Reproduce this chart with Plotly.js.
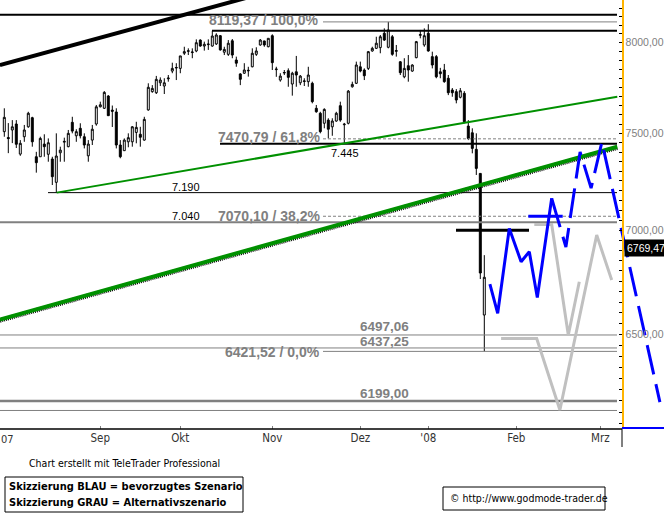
<!DOCTYPE html>
<html><head><meta charset="utf-8">
<script src="https://cdn.plot.ly/plotly-3.0.1.min.js"></script>
<style>html,body{margin:0;padding:0;background:#fff;}#chart{width:664px;height:520px;}</style>
</head><body><div id="chart"></div>
<script>
// ---- DATA (DAX daily, 31 Jul 2007 .. 22 Jan 2008), session index 1..121 ----
const openP = [7509,7478,7518,7550,7390,7482,7535,7584,7376,7376,
7443,7389,7364,7243,7397,7453,7429,7559,7487,7527,
7482,7381,7464,7550,7643,7635,7702,7625,7615,7438,
7408,7455,7455,7505,7495,7464,7626,7726,7720,7775,
7757,7797,7840,7857,7855,7940,7951,7944,7953,8015,
7981,7989,7981,7993,8040,7946,7934,8011,7902,7824,
7828,7841,7864,7934,7987,8010,7977,8040,7848,7790,
7829,7842,7768,7836,7775,7782,7781,7772,7635,7608,
7554,7571,7535,7566,7649,7546,7554,7753,7772,7864,
7846,7855,7953,7968,7972,8054,7974,8034,7951,7892,
7808,7870,7840,7915,8042,7987,8054,7921,7921,7836,
7846,7800,7735,7726,7695,7717,7539,7503,7415,7289,
6590];
const highP = [7635,7555,7571,7571,7464,7545,7616,7589,7402,7482,
7495,7473,7376,7500,7429,7477,7518,7589,7522,7554,
7500,7464,7545,7653,7671,7729,7707,7650,7635,7464,
7473,7500,7539,7562,7535,7589,7772,7762,7813,7805,
7800,7818,7887,7884,7925,7977,7968,7968,8019,8019,
8006,8019,8068,8054,8044,7977,8015,8021,7921,7828,
7884,7864,7968,7974,8021,8011,8025,8048,7864,7828,
7846,7855,7836,7925,7818,7800,7864,7781,7653,7616,
7635,7581,7581,7616,7671,7556,7735,7781,7893,7893,
7855,7953,7977,8034,8044,8082,8119.37,8044,7987,7896,
7912,7930,7878,8010,8073,8082,8106,7949,7930,7858,
7880,7818,7746,7740,7746,7729,7571,7527,7500,7290,
6877];
const lowP = [7482,7395,7448,7422,7381,7455,7530,7429,7293,7376,
7376,7350,7229,7190,7350,7350,7426,7500,7455,7473,
7420,7350,7438,7541,7640,7631,7593,7534,7420,7368,
7408,7426,7429,7447,7429,7461,7622,7720,7713,7757,
7713,7781,7828,7790,7828,7930,7930,7912,7946,7977,
7955,7959,7977,7987,7955,7930,7925,7912,7864,7762,
7824,7809,7861,7925,7983,7977,7974,7846,7808,7781,
7818,7753,7704,7753,7762,7757,7753,7662,7611,7500,
7527,7473,7487,7562,7562,7445,7548,7748,7768,7833,
7790,7846,7949,7964,7940,8010,7968,7926,7921,7818,
7800,7781,7836,7912,8025,7977,7949,7855,7800,7800,
7775,7707,7698,7662,7689,7554,7464,7394,7281,6761,
6421.52];
const closeP = [7586,7472,7535,7442,7447,7518,7608,7455,7345,7473,
7429,7450,7272,7380,7411,7457,7500,7512,7509,7487,
7438,7443,7522,7643,7654,7722,7595,7619,7438,7376,
7464,7477,7535,7532,7479,7575,7750,7744,7794,7790,
7775,7801,7855,7860,7925,7949,7954,7947,8000,7981,
7991,7992,8038,8044,7959,7962,7997,7930,7884,7794,
7846,7844,7940,7953,8015,7987,8025,7887,7851,7812,
7832,7805,7828,7818,7812,7785,7818,7671,7616,7509,
7629,7522,7566,7608,7571,7549,7729,7766,7874,7840,
7814,7949,7968,7997,8034,8015,8073,7934,7955,7831,
7855,7846,7874,8006,8046,8040,7953,7874,7808,7825,
7781,7720,7720,7680,7731,7562,7473,7420,7315,6790,
6769.47];
const lastPrice = '6769,47';

// month axis
const monthLabels = ['Sep','Okt','Nov','Dez',"'08",'Feb','Mrz'];
const monthStart  = [25,45,68,90,107,129,150];
const yMajorVals  = [6500,7000,7500,8000];
const yMajorText  = ['6500,00','7000,00','7500,00','8000,00'];

// horizontal levels
const fibLevels  = [8119.37, 7470.79, 7070.10, 6421.52];
const fibLabels  = ['8119,37 / 100,0%','7470,79 / 61,8%','7070,10 / 38,2%','6421,52 / 0,0%'];
const supLevels  = [6497.06, 6437.25, 6199.00];
const supLabels  = ['6497,06','6437,25','6199,00'];
const markLevels = [7190, 7040, 7445];
const markLabels = ['7.190','7.040','7.445'];
const topLevels  = [8161, 8068];
const lowLevel   = 6157;
const crossLevel = 7000;

// trend lines (session index, value)
const blackTrendX = [-0.1, 80];       const blackTrendY = [7874, 8379];
const greenThinX  = [14.1, 154.25];   const greenThinY  = [7190, 7698];
const greenThickX = [-0.1, 154.25];   const greenThickY = [6569, 7429];

// scenario sketches
const blueX     = [122.4, 124.35, 127.25, 130.2, 132.25, 134.25, 137.85];
const blueY     = [6737, 6598, 7009, 6845, 6894, 6673, 7161];
const blueDashX = [137.85, 141.4, 144.95, 147.7, 150.4, 164.9];
const blueDashY = [7161, 6917, 7401, 7213, 7454, 6194];
const blueFlatX = [132.0, 140.6];     const blueFlatY = [7070, 7070];
const greyAX    = [133.5, 137.85, 142.0, 144.75];
const greyAY    = [7029, 7029, 6497, 6748];
const greyBX    = [125.2, 134.1, 139.9, 149.1, 152.85];
const greyBY    = [6481, 6481, 6159, 6976, 6756];

// ---- LAYOUT HELPERS ----
const W = 664, PH = 429;
const xi = p => p / 4 - 0.075;            // pixel -> session index
const px = p => p / W;                     // pixel -> paper x
const py = p => (PH - p) / PH;             // pixel -> paper y
const SANS = 'Liberation Sans, Arial, sans-serif';
const NARROW = 'Liberation Sans Narrow, Arial Narrow, DejaVu Sans Condensed, sans-serif';
const idx = openP.map((_, i) => i + 1);

const traces = [];
function seg(x, y, color, width, dash) {
  traces.push({type:'scatter', mode:'lines', x:x, y:y, hoverinfo:'skip',
    line:{color:color, width:width, dash:dash || 'solid'}});
}
// horizontal levels
seg([xi(0), xi(617)], [topLevels[0], topLevels[0]], '#000', 2);
seg([xi(323), xi(617)], [fibLevels[0], fibLevels[0]], '#808080', 1);
seg([xi(212), xi(617)], [topLevels[1], topLevels[1]], '#000', 2);
seg([xi(323), xi(617)], [fibLevels[1], fibLevels[1]], '#808080', 1, '3px,2px');
seg([xi(220), xi(617)], [markLevels[2], markLevels[2]], '#000', 2);
seg([xi(48), xi(617)], [markLevels[0], markLevels[0]], '#000', 1);
seg([xi(323), xi(617)], [fibLevels[2], fibLevels[2]], '#808080', 1, '3px,2px');
seg([xi(0), xi(617)], [markLevels[1], markLevels[1]], '#808080', 2);
seg([xi(0), xi(617)], [supLevels[0], supLevels[0]], '#808080', 1);
seg([xi(0), xi(617)], [supLevels[1], supLevels[1]], '#808080', 1);
seg([xi(323), xi(617)], [fibLevels[3], fibLevels[3]], '#808080', 1);
seg([xi(0), xi(617)], [supLevels[2], supLevels[2]], '#808080', 2.5);
seg([xi(0), xi(617)], [lowLevel, lowLevel], '#808080', 1);
// trend lines
seg(blackTrendX, blackTrendY, '#000', 4);
seg(greenThinX, greenThinY, '#009000', 2);
seg(greenThickX, greenThickY.map(v => v * 0.9993), '#000', 4.5, '1px,1px');
seg(greenThickX, greenThickY, '#009000', 4);
// candles
traces.push({type:'candlestick', x:idx, open:openP, high:highP, low:lowP, close:closeP,
  hoverinfo:'skip', whiskerwidth:0,
  increasing:{line:{color:'#000', width:1}, fillcolor:'#fff'},
  decreasing:{line:{color:'#000', width:1}, fillcolor:'#000'}});
// crosshair line
seg([xi(456), xi(529)], [crossLevel, crossLevel], '#000', 3);
// scenarios
seg(greyAX, greyAY, '#c0c0c0', 3);
seg(greyBX, greyBY, '#c0c0c0', 3);
seg(blueFlatX, blueFlatY, '#0000ff', 3);
seg(blueX, blueY, '#0000ff', 3);
seg(blueDashX, blueDashY, '#0000ff', 3, '30px,10px');

// y ticks
const tickVals = [], tickText = [];
for (let v = 6100; v <= 8200; v += 50) {
  tickVals.push(v);
  const j = yMajorVals.indexOf(v);
  tickText.push(j >= 0 ? yMajorText[j] : '');
}

const anns = [];
function txt(t, x, y, font, extra) {
  anns.push(Object.assign({xref:'paper', yref:'paper', x:px(x), y:py(y), xanchor:'left', yanchor:'middle',
    text:t, showarrow:false, font:font, borderpad:0}, extra || {}));
}
const fibFont = {family:SANS, size:14, color:'#808080', weight:'bold'};
const supFont = {family:SANS, size:13.5, color:'#808080', weight:'bold'};
txt(fibLabels[0], 208, 20, fibFont);
txt(fibLabels[1], 217, 137, fibFont);
txt(fibLabels[2], 217, 216, fibFont);
txt(fibLabels[3], 224, 352, fibFont);
txt(supLabels[0], 359, 326, supFont);
txt(supLabels[1], 359, 341, supFont);
txt(supLabels[2], 359, 393, supFont);
const markFont = {family:SANS, size:11, color:'#000'};
txt(markLabels[0], 171, 187, markFont);
txt(markLabels[1], 171, 216, markFont);
txt(markLabels[2], 330, 153, markFont);
txt('07', 0, 439, {family:NARROW, size:11, color:'#333'});
txt('Chart erstellt mit TeleTrader Professional', 28, 463, {family:NARROW, size:10.5, color:'#000'});
const boxFont = {family:NARROW, size:11, color:'#000', weight:'bold'};
txt('Skizzierung BLAU = bevorzugtes Szenario', 8, 486, boxFont);
txt('Skizzierung GRAU = Alternativszenario', 8, 502, boxFont);
txt('\u00a9 http://www.godmode-trader.de', 449, 498, {family:NARROW, size:10.5, color:'#000'});
txt(lastPrice, 624, 248, {family:SANS, size:10.5, color:'#fff'}, {bgcolor:'#000', borderpad:2});

const shapes = [
  {type:'line', xref:'paper', yref:'paper', x0:0, x1:px(622), y0:0, y1:0, line:{color:'#000', width:1.5}},
  {type:'line', xref:'paper', yref:'paper', x0:px(622), x1:1, y0:py(428), y1:py(428), line:{color:'#0000ff', width:2}},
  {type:'line', xref:'paper', yref:'paper', x0:px(622), x1:px(622), y0:0, y1:py(447), line:{color:'#000', width:1}},
  {type:'rect', xref:'paper', yref:'paper', x0:px(5), x1:px(243), y0:py(477), y1:py(512), line:{color:'#000', width:1}},
  {type:'rect', xref:'paper', yref:'paper', x0:px(443), x1:px(605), y0:py(487), y1:py(510), line:{color:'#000', width:1}}
];

const layout = {
  width:664, height:520, margin:{l:0, r:0, t:0, b:91, pad:0},
  paper_bgcolor:'#fff', plot_bgcolor:'#fff', showlegend:false,
  xaxis:{type:'linear', range:[-0.075, 165.925], tickvals:monthStart, ticktext:monthLabels,
    ticks:'inside', ticklen:3, tickcolor:'#808080', showline:false, showgrid:false, zeroline:false,
    tickfont:{family:NARROW, size:11.5, color:'#333'}, rangeslider:{visible:false}, fixedrange:true},
  yaxis:{type:'log', range:[3.783641, 3.916293], anchor:'free', position:622/664, side:'right',
    showline:true, linecolor:'#ffb400', linewidth:1.5, ticks:'inside', ticklen:3, tickcolor:'#000',
    tickvals:tickVals, ticktext:tickText, tickfont:{family:SANS, size:10.5, color:'#808080'},
    showgrid:false, zeroline:false, fixedrange:true},
  shapes:shapes, annotations:anns
};
Plotly.newPlot('chart', traces, layout, {staticPlot:true, displayModeBar:false});
</script></body></html>
